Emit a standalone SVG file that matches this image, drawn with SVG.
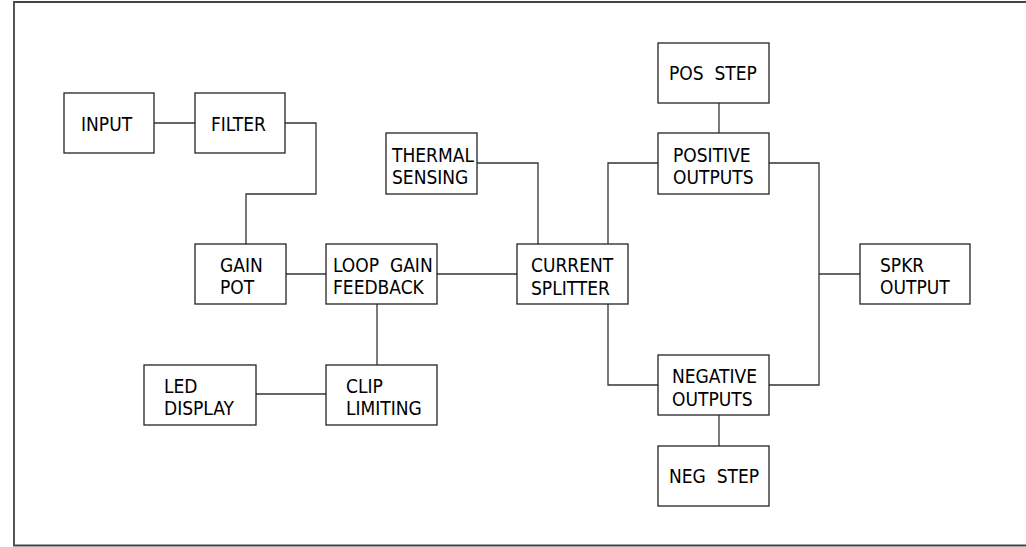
<svg xmlns="http://www.w3.org/2000/svg" width="1026" height="547" viewBox="0 0 1026 547">
<style>
.box{fill:#fff;stroke:#222;stroke-width:1.3}
.ln{fill:none;stroke:#333;stroke-width:1.3}
.frame{fill:none;stroke:#444;stroke-width:1.8}
text{font-family:"DejaVu Sans Condensed","DejaVu Sans","Liberation Sans",sans-serif;font-stretch:condensed;font-size:19px;fill:#000}
</style>
<rect width="1026" height="547" fill="#fff"/>
<path class="frame" d="M1026 2 H14 V545.5 H1026"/>
<g id="connectors">
<path class="ln" d="M154 123 H195"/>
<path class="ln" d="M285 123 H316 V194 H246 V244"/>
<path class="ln" d="M286 274 H326"/>
<path class="ln" d="M437 274 H517"/>
<path class="ln" d="M377 304 V365"/>
<path class="ln" d="M256 394 H326"/>
<path class="ln" d="M477 163 H538 V244"/>
<path class="ln" d="M608 244 V163 H658"/>
<path class="ln" d="M608 304 V385 H658"/>
<path class="ln" d="M719 103 V133"/>
<path class="ln" d="M719 415 V446"/>
<path class="ln" d="M769 163 H819 V385 H769"/>
<path class="ln" d="M819 274 H860"/>
</g>
<g id="input"><rect class="box" x="64" y="93" width="90" height="60"/><text x="81" y="130.5">INPUT</text></g>
<g id="filter"><rect class="box" x="195" y="93" width="90" height="60"/><text x="211" y="130.5">FILTER</text></g>
<g id="gain-pot"><rect class="box" x="195" y="244" width="91" height="60"/><text x="220" y="272">GAIN</text><text x="220" y="294">POT</text></g>
<g id="loop-gain"><rect class="box" x="326" y="244" width="111" height="60"/><text x="333" y="272" xml:space="preserve">LOOP  GAIN</text><text x="333" y="294">FEEDBACK</text></g>
<g id="clip"><rect class="box" x="326" y="365" width="111" height="60"/><text x="346" y="393">CLIP</text><text x="346" y="415">LIMITING</text></g>
<g id="led"><rect class="box" x="144" y="365" width="112" height="60"/><text x="164" y="393">LED</text><text x="164" y="415">DISPLAY</text></g>
<g id="thermal"><rect class="box" x="386" y="133" width="91" height="61"/><text x="392" y="162">THERMAL</text><text x="392" y="184">SENSING</text></g>
<g id="current"><rect class="box" x="517" y="244" width="111" height="60"/><text x="531" y="272">CURRENT</text><text x="531" y="295">SPLITTER</text></g>
<g id="pos-step"><rect class="box" x="658" y="43" width="111" height="60"/><text x="669" y="80" xml:space="preserve">POS  STEP</text></g>
<g id="positive"><rect class="box" x="658" y="133" width="111" height="61"/><text x="673" y="162">POSITIVE</text><text x="673" y="184">OUTPUTS</text></g>
<g id="negative"><rect class="box" x="658" y="355" width="111" height="60"/><text x="672" y="383">NEGATIVE</text><text x="672" y="405.5">OUTPUTS</text></g>
<g id="neg-step"><rect class="box" x="658" y="446" width="111" height="60"/><text x="669" y="483" xml:space="preserve">NEG  STEP</text></g>
<g id="spkr"><rect class="box" x="860" y="244" width="110" height="60"/><text x="880" y="272">SPKR</text><text x="880" y="294">OUTPUT</text></g>
</svg>
